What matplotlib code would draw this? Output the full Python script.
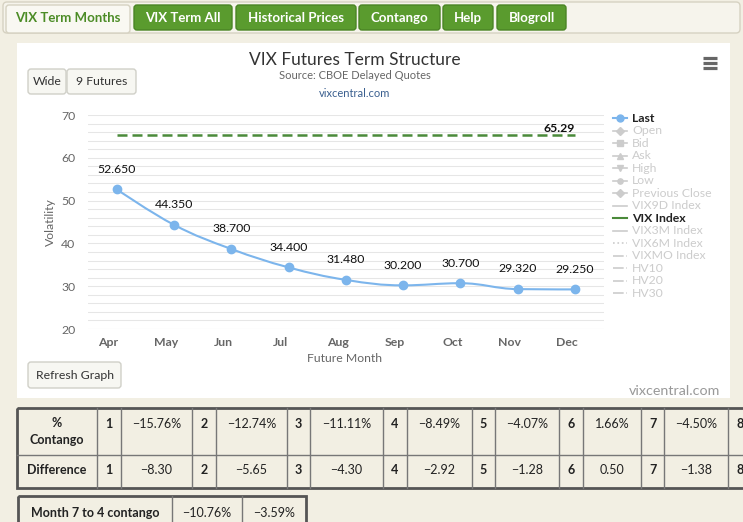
import numpy as np
import matplotlib
matplotlib.use('Agg')
import matplotlib.pyplot as plt
from matplotlib.patches import FancyBboxPatch, PathPatch
from matplotlib.path import Path

plt.rcParams['font.family'] = ['Lato', 'DejaVu Sans']

# data
months = ['Apr', 'May', 'Jun', 'Jul', 'Aug', 'Sep', 'Oct', 'Nov', 'Dec']
last = [52.650, 44.350, 38.700, 34.400, 31.480, 30.200, 30.700, 29.320, 29.250]
vix_index = 65.29

tabs = ['VIX Term Months', 'VIX Term All', 'Historical Prices', 'Contango', 'Help', 'Blogroll']
legend_names = ['Last', 'Open', 'Bid', 'Ask', 'High', 'Low', 'Previous Close', 'VIX9D Index',
                'VIX Index', 'VIX3M Index', 'VIX6M Index', 'VIXMO Index', 'HV10', 'HV20', 'HV30']

contango_pct = [-15.76, -12.74, -11.11, -8.49, -4.07, 1.66, -4.50]
difference = [-8.30, -5.65, -4.30, -2.92, -1.28, 0.50, -1.38]
month7to4 = [-10.76, -3.59]

BLUE = '#7cb5ec'
GREEN = '#4a8a3a'
TAB_GREEN = '#5a9b2e'
GREY_TXT = '#666666'
OFF = '#cccccc'

fig = plt.figure(figsize=(7.43, 5.22), dpi=100)
fig.patch.set_facecolor('#f2efe3')

# page layer in pixel coords
page = fig.add_axes([0, 0, 1, 1])
page.set_xlim(0, 743)
page.set_ylim(522, 0)
page.axis('off')


def box(x0, y0, x1, y1, fc, ec, r=3, lw=1, z=1):
    page.add_patch(FancyBboxPatch((x0, y0), x1 - x0, y1 - y0,
                                  boxstyle=f'round,pad=0,rounding_size={r}',
                                  fc=fc, ec=ec, lw=lw, zorder=z))


def minus(v, fmt):
    s = fmt.format(v)
    return s.replace('-', '\u2212')


# tab bar
box(3, 2, 740, 33, '#f6f4ec', '#d6d2c2', r=4)
tab_x = [(6, 130), (134, 232), (236, 356), (359, 440), (443, 493), (497, 566)]
for i, (name, (x0, x1)) in enumerate(zip(tabs, tab_x)):
    if i == 0:
        box(x0, 5, x1, 33, '#f9f8f2', '#d6d2c2', r=3, z=2)
        page.text((x0 + x1) / 2, 18.5, name, ha='center', va='center', fontsize=9.5,
                  fontweight='bold', color='#4c8c26', zorder=3)
    else:
        box(x0, 5, x1, 30, TAB_GREEN, '#4a8424', r=3, z=2)
        page.text((x0 + x1) / 2, 18, name, ha='center', va='center', fontsize=9.5,
                  fontweight='bold', color='white', zorder=3)

# white chart panel
page.add_patch(plt.Rectangle((17, 43), 713, 355, fc='white', ec='none', zorder=1))

page.text(355, 60, 'VIX Futures Term Structure', ha='center', va='center', fontsize=12.5, color='#333333', zorder=3)
page.text(355, 75.5, 'Source: CBOE Delayed Quotes', ha='center', va='center', fontsize=8, color=GREY_TXT, zorder=3)
page.text(355, 93.5, 'vixcentral.com', ha='center', va='center', fontsize=8, color='#3a5f8f', zorder=3)

# buttons
box(28, 69, 66, 94, '#f7f7f2', '#d0d0c8', r=3, z=2)
box(67, 69, 136, 94, '#f7f7f2', '#d0d0c8', r=3, z=2)
page.text(47, 81.5, 'Wide', ha='center', va='center', fontsize=8.8, color='#333333', zorder=3)
page.text(101.5, 81.5, '9 Futures', ha='center', va='center', fontsize=8.8, color='#333333', zorder=3)
box(28, 362, 121, 388, '#f7f7f2', '#d0d0c8', r=3, z=2)
page.text(74.5, 375.5, 'Refresh Graph', ha='center', va='center', fontsize=8.8, color='#333333', zorder=3)

# hamburger menu
for yy in (57.5, 62.5, 67.5):
    page.plot([703, 717], [yy, yy], color=GREY_TXT, lw=2.3, solid_capstyle='butt', zorder=3)

page.text(720, 391, 'vixcentral.com', ha='right', va='center', fontsize=10.3, color='#999999', zorder=3)

# legend
leg_y0, leg_dy = 118.3, 12.5
markers = ['o', 'D', 's', '^', 'v', 'o', 'D', None, None, None, None, None, None, None, None]
styles = ['-'] * 10 + [':', '-.', '-.', '-.', '-.']
for i, name in enumerate(legend_names):
    y = leg_y0 + i * leg_dy
    active = name in ('Last', 'VIX Index')
    col = BLUE if name == 'Last' else (GREEN if name == 'VIX Index' else OFF)
    page.plot([613, 627], [y, y], color=col, lw=1.5 if active else 1.2, ls=styles[i], zorder=3)
    if markers[i]:
        page.plot([620], [y], marker=markers[i], ms=5 if i == 0 else 3.8, color=col, zorder=4)
    page.text(632, y, name, ha='left', va='center', fontsize=8.8,
              color='#222222' if active else OFF, fontweight='bold' if active else 'normal', zorder=3)

# chart axes
ax = fig.add_axes([88 / 743, 1 - 329 / 522, 515.6 / 743, 214 / 522], zorder=2)
ax.patch.set_alpha(0)
ax.set_xlim(-0.5, 8.5)
ax.set_ylim(20, 70)
for s in ax.spines.values():
    s.set_visible(False)
for yy in np.arange(20, 71, 2):
    ax.axhline(yy, color='#e6e6e6', lw=0.75, zorder=0)
ax.axhline(20, color='#ccd6eb', lw=0.75, zorder=0)

ax.set_yticks(np.arange(20, 71, 10))
ax.set_xticks(np.arange(len(months)) - 0.14, months)
ax.tick_params(axis='y', length=0, pad=9, labelsize=8.8, labelcolor=GREY_TXT)
ax.tick_params(axis='x', length=0, pad=6, labelsize=8.8, labelcolor=GREY_TXT)
for lbl in ax.get_xticklabels():
    lbl.set_fontweight('bold')
ax.set_ylabel('Volatility', fontsize=8.8, color=GREY_TXT)
ax.yaxis.set_label_coords(-0.063, 0.5)
ax.set_xlabel('Future Month', fontsize=8.8, color=GREY_TXT)
ax.xaxis.set_label_coords(0.498, -0.113)


def spline_path(xs, ys, sm=1.5):
    n = len(xs)
    lc, rc = [None] * n, [None] * n
    d = sm + 1
    for i in range(1, n - 1):
        lx = (sm * xs[i] + xs[i - 1]) / d
        ly = (sm * ys[i] + ys[i - 1]) / d
        rx = (sm * xs[i] + xs[i + 1]) / d
        ry = (sm * ys[i] + ys[i + 1]) / d
        corr = ((ry - ly) * (rx - xs[i])) / (rx - lx) + ys[i] - ry
        ly += corr
        ry += corr
        if ly > ys[i - 1] and ly > ys[i]:
            ly = max(ys[i - 1], ys[i]); ry = 2 * ys[i] - ly
        elif ly < ys[i - 1] and ly < ys[i]:
            ly = min(ys[i - 1], ys[i]); ry = 2 * ys[i] - ly
        if ry > ys[i + 1] and ry > ys[i]:
            ry = max(ys[i + 1], ys[i]); ly = 2 * ys[i] - ry
        elif ry < ys[i + 1] and ry < ys[i]:
            ry = min(ys[i + 1], ys[i]); ly = 2 * ys[i] - ry
        lc[i] = (lx, ly)
        rc[i] = (rx, ry)
    verts = [(xs[0], ys[0])]
    codes = [Path.MOVETO]
    for i in range(1, n):
        c1 = rc[i - 1] if rc[i - 1] else (xs[i - 1], ys[i - 1])
        c2 = lc[i] if lc[i] else (xs[i], ys[i])
        verts += [c1, c2, (xs[i], ys[i])]
        codes += [Path.CURVE4] * 3
    return Path(verts, codes)


xs = np.arange(len(last), dtype=float)
ax.add_patch(PathPatch(spline_path(xs, last), fill=False, ec=BLUE, lw=1.5, zorder=3))
ax.plot(xs, last, 'o', ms=6, color=BLUE, zorder=4)
for x, v in zip(xs, last):
    ax.annotate(f'{v:.3f}', (x, v), xytext=(0, 14.5), textcoords='offset points',
                ha='center', va='center', fontsize=8.8, color='#111111', zorder=5)

ax.plot([xs[0], xs[-1]], [vix_index, vix_index], color=GREEN, lw=1.8, dashes=(4, 2), zorder=3)
ax.annotate(f'{vix_index:.2f}', (xs[-1], vix_index), xytext=(0, 4.5), textcoords='offset points',
            ha='right', va='center', fontsize=8.8, fontweight='bold', color='#111111', zorder=5)

# contango table
cols = [17, 97, 121, 192, 216, 287, 310, 383, 407, 472, 495, 559, 583, 641, 664, 728, 752]
t_top, t_mid, t_bot = 408, 455, 488
page.add_patch(plt.Rectangle((17, t_top), 760, t_bot - t_top, fc='none', ec='#555555', lw=2, zorder=2))
for x in cols[1:]:
    page.plot([x, x], [t_top, t_bot], color='#777777', lw=1, zorder=2)
page.plot([17, 760], [t_mid, t_mid], color='#777777', lw=1, zorder=2)

page.text(57, 423, '%', ha='center', va='center', fontsize=9, fontweight='bold', color='#222222')
page.text(57, 440, 'Contango', ha='center', va='center', fontsize=9, fontweight='bold', color='#222222')
page.text(57, 470, 'Difference', ha='center', va='center', fontsize=9, fontweight='bold', color='#222222')
for k in range(len(contango_pct)):
    xn = (cols[1 + 2 * k] + cols[2 + 2 * k]) / 2
    xv = (cols[2 + 2 * k] + cols[3 + 2 * k]) / 2
    page.text(xn, 424, str(k + 1), ha='center', va='center', fontsize=9, fontweight='bold', color='#222222')
    page.text(xn, 470, str(k + 1), ha='center', va='center', fontsize=9, fontweight='bold', color='#222222')
    page.text(xv, 424, minus(contango_pct[k], '{:.2f}%'), ha='center', va='center', fontsize=9, color='#222222')
    page.text(xv, 470, minus(difference[k], '{:.2f}'), ha='center', va='center', fontsize=9, color='#222222')
page.text(740, 424, '8', ha='center', va='center', fontsize=9, fontweight='bold', color='#222222')
page.text(740, 470, '8', ha='center', va='center', fontsize=9, fontweight='bold', color='#222222')

# month 7 to 4 table
page.add_patch(plt.Rectangle((18, 496), 288, 40, fc='none', ec='#555555', lw=2, zorder=2))
for x in (172, 242):
    page.plot([x, x], [496, 536], color='#777777', lw=1, zorder=2)
page.text(95, 513, 'Month 7 to 4 contango', ha='center', va='center', fontsize=9, fontweight='bold', color='#222222')
page.text(207, 513, minus(month7to4[0], '{:.2f}%'), ha='center', va='center', fontsize=9, color='#222222')
page.text(274, 513, minus(month7to4[1], '{:.2f}%'), ha='center', va='center', fontsize=9, color='#222222')

fig.savefig('out.png', dpi=100, facecolor=fig.get_facecolor())
